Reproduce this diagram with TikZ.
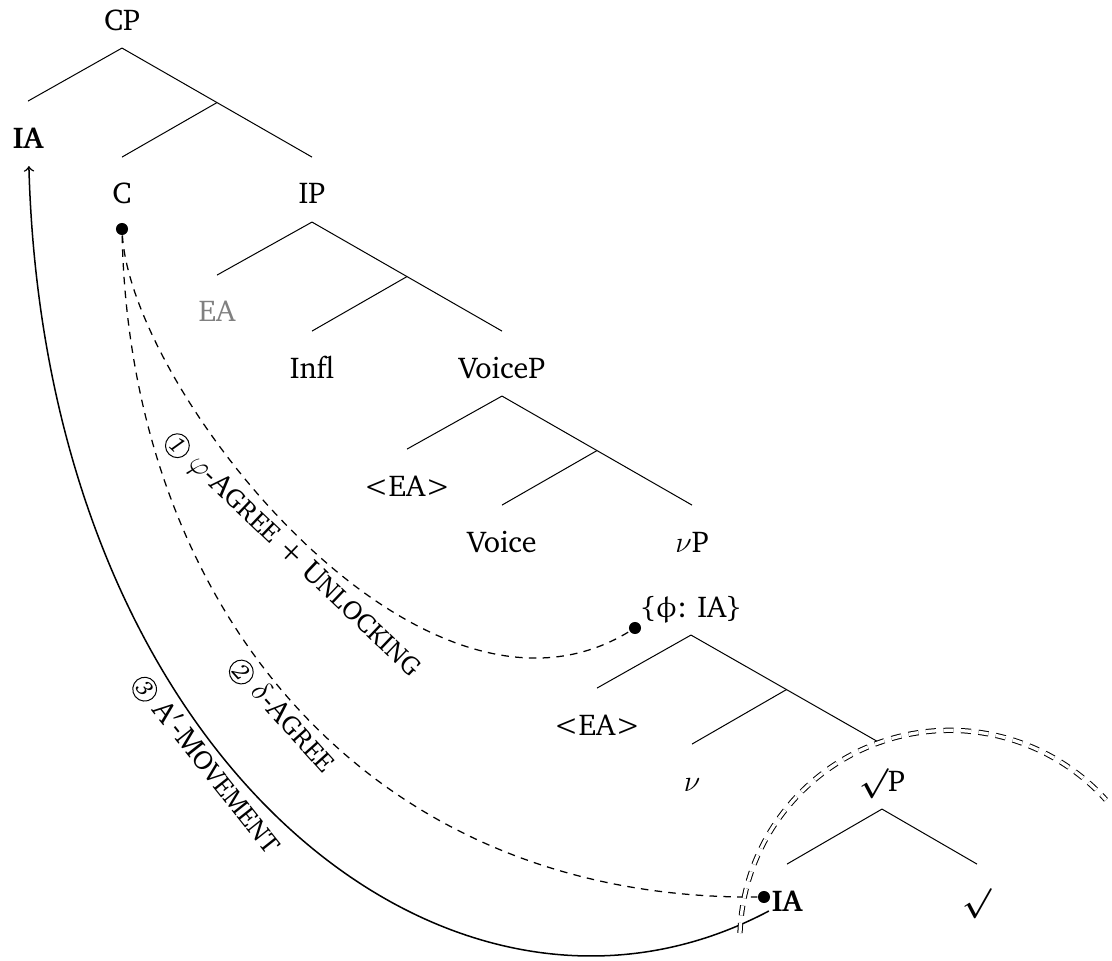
\documentclass[tikz,border=0pt]{standalone}
\usepackage[T1]{fontenc}
\usepackage{charter}
\usepackage{upgreek}
\usetikzlibrary{calc}

\tikzset{
  tn/.style={anchor=base, inner xsep=1pt, inner ysep=0pt, text height=18.5pt, text depth=7pt},
  dot/.style={circle, fill, inner sep=0pt, minimum size=4.8pt},
  agree/.style={dash pattern=on 3pt off 2.5pt, line width=0.5pt},
  lbl/.style={sloped, below, inner sep=1.5pt},
}
\newcommand{\circnum}[1]{\tikz[baseline=(cn.base)]\node[draw, circle, inner sep=0.4pt, minimum size=9.5pt, font=\fontsize{9}{9}\selectfont\itshape] (cn) {#1};}
\newcommand{\smcp}[1]{{\fontsize{10.6}{12}\selectfont\MakeUppercase{#1}}}
\newcommand{\rt}{{\boldmath$\surd$}}

\begin{document}
\begin{tikzpicture}[x=0.014cm, y=-0.014cm, font=\fontsize{12}{14.4}\selectfont]
    \useasboundingbox (0,0) rectangle (1112,961);
    % the tree
    \node[tn] (cp) at (122,30) {CP};
    \node[tn] (ia) at (28,148) {\textbf{IA}};
    \node[tn] (c) at (122,204) {C};
    \node[tn] (ip) at (312,204) {IP};
    \node[tn, text=gray] (ea) at (217,322) {EA};
    \node[tn] (infl) at (312,378) {Infl};
    \node[tn] (voicep) at (502,378) {VoiceP};
    \node[tn] (ea2) at (407,496) {<EA>};
    \node[tn] (voice) at (502,552) {Voice};
    \node[tn] (vp) at (692,552) {$\nu$P};
    \node[tn] (phi) at (691,617) {\{$\upphi$: IA\}};
    \node[tn] (ea3) at (597,735) {<EA>};
    \node[tn] (v) at (692,791) {$\nu$};
    \node[tn] (rootp) at (882,791) {\rt P};
    \node[tn] (ia2) at (787,911) {\textbf{IA}};
    \node[tn] (root) at (977,911) {\rt};

    \draw (cp.south) -- (ia.north);
    \draw (cp.south) -- (ip.north);
    \draw ($(cp.south)!.5!(ip.north)$) -- (c.north);
    \draw (ip.south) -- (ea.north);
    \draw (ip.south) -- (voicep.north);
    \draw ($(ip.south)!.5!(voicep.north)$) -- (infl.north);
    \draw (voicep.south) -- (ea2.north);
    \draw (voicep.south) -- (vp.north);
    \draw ($(voicep.south)!.5!(vp.north)$) -- (voice.north);
    \draw (phi.south) -- (ea3.north);
    \draw (phi.south) -- (rootp.north);
    \draw ($(phi.south)!.5!(rootp.north)$) -- (v.north);
    \draw (rootp.south) -- (ia2.north);
    \draw (rootp.south) -- (root.north);

    % probes and goals
    \node[dot] (dc) at (122,229) {};
    \node[dot] (dphi) at (635,628) {};
    \node[dot] (dia) at (764,897) {};

    \draw[agree] (dc) .. controls (132,390) and (420,760) .. (dphi)
        node[lbl, pos=.505] {\circnum{1} $\varphi$-A\smcp{gree} + U\smcp{nlocking}};
    \draw[agree] (dc) .. controls (130,600) and (360,900) .. (dia)
        node[lbl, pos=.5] {\circnum{2} $\delta$-A\smcp{gree}};
    \draw[semithick, <-] (ia) .. controls (45,760) and (450,1080) .. (ia2.base west)
        node[lbl, pos=.42] {\circnum{3} A$'$-M\smcp{ovement}};

    % phase boundary
    \coordinate (arcstart) at (740,933);
    \draw[double, double distance=1.3pt, dash pattern=on 4pt off 3pt] (arcstart) arc[start angle=-178, end angle=-42, radius=210];
\end{tikzpicture}
\end{document}
